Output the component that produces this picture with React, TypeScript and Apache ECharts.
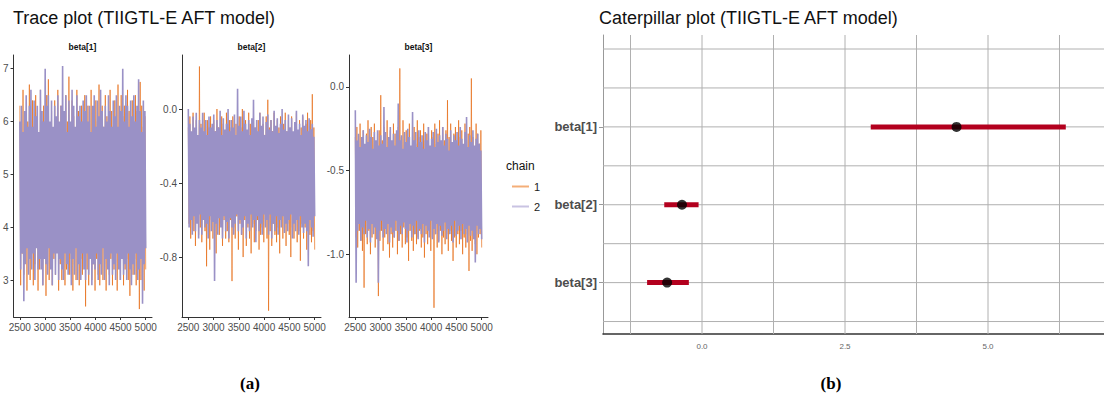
import React, { useEffect, useRef } from "react";
import * as echarts from "echarts";

// ---------- data (thinned draws) ----------
const panelNames = ["beta[1]", "beta[2]", "beta[3]"];
const chainNames = ["1", "2"];
const firstIter = 2501;
const lastIter = 5000;

const chain1Beta1 = [
  6.3, 2.9, 5.8, 3.5, 6.6, 3.1, 5.5, 3.8, 6.2, 2.8, 6.0, 3.4, 6.7, 3.0, 5.7, 3.6,
  6.4, 2.9, 5.9, 3.3, 6.5, 3.7, 6.1, 2.8, 5.6, 3.2, 6.6, 3.5, 6.0, 2.9, 6.3, 3.4,
  5.8, 2.7, 6.5, 3.3, 6.8, 3.0, 5.9, 3.6, 6.2, 2.9, 5.6, 3.4, 6.4, 3.1, 6.0, 3.7,
  6.6, 2.8, 5.7, 3.3, 6.3, 3.0, 6.1, 3.5, 5.8, 2.9, 6.5, 3.2, 6.0, 3.6, 6.85, 3.1,
  5.9, 3.4, 6.4, 2.8, 6.1, 3.3, 5.7, 3.0, 6.6, 3.5, 6.2, 2.9, 5.8, 3.4, 6.3, 3.1,
  6.0, 3.6, 6.5, 2.5, 5.9, 3.2, 6.3, 2.9, 5.7, 3.5, 6.6, 3.0, 6.1, 3.3, 5.8, 2.8,
  6.4, 3.4, 6.0, 3.1, 6.7, 2.9, 5.6, 3.5, 6.3, 3.0, 5.9, 3.3, 6.5, 2.8, 6.1, 3.6,
  5.8, 3.1, 6.6, 3.4, 6.2, 2.9, 5.9, 3.2, 6.4, 3.6, 6.0, 2.8, 6.7, 3.3, 5.7, 3.0,
  6.5, 3.5, 6.1, 2.9, 6.3, 3.2, 5.8, 3.4, 6.6, 3.0, 6.2, 2.7, 5.9, 3.3, 6.4, 3.1,
  6.0, 3.4, 6.5, 2.9, 6.2, 3.2, 5.8, 2.45, 6.75, 3.0, 6.3, 3.3, 5.9, 2.8, 6.1, 3.2,
];
const chain2Beta1 = [
  6.0, 3.2, 6.3, 3.5, 5.8, 2.6, 6.2, 3.3, 6.5, 3.6, 5.9, 3.1, 6.3, 3.4, 6.6, 3.2,
  5.9, 3.5, 6.4, 3.0, 6.1, 3.6, 6.3, 3.2, 5.8, 3.4, 6.6, 3.2, 6.2, 2.9, 6.0, 3.4,
  7.0, 3.3, 6.3, 3.1, 6.5, 3.6, 6.0, 3.2, 6.4, 2.9, 5.9, 3.5, 6.3, 3.1, 6.1, 3.5,
  6.5, 3.0, 6.0, 3.4, 6.3, 3.2, 7.05, 3.0, 6.2, 3.5, 6.5, 3.3, 5.8, 3.1, 6.4, 3.5,
  6.0, 2.9, 6.6, 3.4, 6.3, 3.1, 5.9, 3.6, 6.5, 3.0, 6.1, 3.3, 6.3, 3.0, 6.0, 3.5,
  6.4, 3.2, 6.2, 3.0, 6.5, 3.5, 6.0, 3.1, 6.3, 3.4, 5.8, 2.9, 6.3, 3.3, 6.5, 3.2,
  5.9, 3.5, 6.4, 3.0, 6.1, 3.3, 6.6, 3.1, 6.2, 3.6, 5.9, 3.0, 6.3, 3.4, 6.0, 3.2,
  6.5, 2.9, 6.2, 3.5, 5.9, 3.1, 6.4, 3.3, 6.1, 3.0, 6.5, 3.5, 5.9, 3.2, 6.3, 3.0,
  6.2, 3.4, 7.0, 3.1, 6.0, 3.3, 6.5, 3.0, 6.3, 3.5, 5.9, 3.2, 6.4, 2.9, 6.1, 3.3,
  6.5, 3.1, 6.0, 3.5, 6.3, 3.0, 6.8, 3.2, 6.2, 3.4, 5.8, 2.55, 6.4, 3.3, 6.2, 3.6,
];
const chain1Beta2 = [
  -0.10, -0.62, -0.04, -0.70, -0.14, -0.58, -0.02, -0.66, -0.12, -0.74, -0.06, -0.60, -0.16, -0.68, 0.23, -0.64,
  -0.08, -0.72, -0.12, -0.58, -0.02, -0.66, -0.14, -0.85, -0.06, -0.62, -0.10, -0.76, -0.04, -0.60, -0.16, -0.70,
  -0.06, -0.64, -0.12, -0.78, 0.0, -0.58, -0.10, -0.68, -0.14, -0.62, -0.04, -0.74, -0.08, -0.60, -0.12, -0.70,
  -0.02, -0.66, -0.16, -0.72, -0.06, -0.60, -0.10, -0.93, -0.04, -0.64, -0.12, -0.70, -0.08, -0.58, -0.14, -0.76,
  -0.04, -0.62, -0.10, -0.68, 0.0, -0.80, -0.12, -0.60, -0.06, -0.74, -0.14, -0.64, -0.02, -0.70, -0.08, -0.78,
  -0.12, -0.62, -0.04, -0.72, -0.10, -0.66, -0.16, -0.60, -0.06, -0.76, -0.02, -0.68, -0.12, -0.64, -0.08, -0.72,
  -0.14, -0.60, -0.04, -0.70, 0.05, -1.09, -0.10, -0.66, -0.06, -0.74, -0.12, -0.62, -0.02, -0.68, -0.16, -0.72,
  -0.06, -0.64, -0.10, -0.78, -0.04, -0.60, -0.14, -0.70, -0.08, -0.66, -0.02, -0.74, -0.12, -0.62, -0.06, -0.68,
  -0.10, -0.80, -0.04, -0.64, -0.14, -0.70, -0.08, -0.60, -0.02, -0.72, -0.12, -0.66, -0.06, -0.82, -0.10, -0.62,
  -0.04, -0.70, -0.12, -0.64, -0.08, -0.76, -0.02, -0.60, -0.14, -0.68, -0.06, -0.72, 0.08, -0.66, -0.10, -0.76,
];
const chain2Beta2 = [
  0.0, -0.64, -0.08, -0.60, -0.12, -0.68, -0.04, -0.58, -0.10, -0.66, -0.02, -0.62, -0.14, -0.70, -0.06, -0.57,
  -0.10, -0.68, -0.02, -0.60, -0.12, -0.64, -0.06, -0.62, -0.14, -0.70, -0.04, -0.58, -0.10, -0.66, -0.08, -0.61,
  -0.03, -0.93, -0.12, -0.62, -0.06, -0.68, -0.10, -0.59, -0.01, -0.64, -0.14, -0.70, -0.05, -0.58, -0.11, -0.66,
  -0.08, -0.61, 0.0, -0.70, -0.12, -0.59, -0.06, -0.64, -0.10, -0.68, -0.03, -0.62, -0.14, -0.57, 0.11, -0.66,
  -0.09, -0.60, -0.04, -0.68, -0.12, -0.64, -0.01, -0.58, -0.08, -0.70, -0.11, -0.62, -0.06, -0.66, -0.14, -0.57,
  -0.05, -0.64, 0.05, -0.60, -0.10, -0.72, -0.06, -0.58, -0.12, -0.66, -0.02, -0.62, -0.09, -0.68, -0.04, -0.57,
  -0.14, -0.64, -0.07, -0.60, -0.03, -0.68, -0.11, -0.57, -0.06, -0.70, -0.12, -0.62, -0.01, -0.66, -0.09, -0.58,
  -0.05, -0.68, -0.13, -0.60, -0.08, -0.64, 0.0, -0.58, -0.11, -0.67, -0.06, -0.62, -0.12, -0.66, -0.03, -0.60,
  -0.10, -0.57, -0.05, -0.70, -0.12, -0.62, -0.07, -0.66, -0.01, -0.60, -0.11, -0.68, -0.08, -0.58, -0.14, -0.64,
  -0.03, -0.67, -0.09, -0.62, -0.06, -0.66, -0.12, -0.85, -0.05, -0.60, -0.11, -0.64, -0.08, -0.69, -0.15, -0.58,
];
const chain1Beta3 = [
  -0.30, -0.90, -0.24, -0.96, -0.36, -0.86, -0.22, -0.92, -0.32, -0.98, -0.26, -1.20, -0.38, -0.88, -0.28, -0.94,
  -0.20, -0.86, -0.34, -1.00, -0.24, -0.90, -0.30, -0.84, -0.22, -0.96, -0.36, -0.88, -0.28, -1.25, -0.26, -0.92,
  -0.05, -0.86, -0.32, -0.98, -0.24, -0.90, -0.38, -0.84, -0.20, -0.94, -0.30, -1.02, -0.26, -0.88, -0.34, -0.96,
  -0.22, -0.90, -0.28, -0.86, -0.36, -1.00, -0.24, -0.92, 0.11, -0.88, -0.30, -0.96, -0.20, -0.84, -0.34, -0.94,
  -0.26, -0.90, -0.32, -1.04, -0.22, -0.86, -0.38, -0.92, -0.28, -0.98, -0.24, -0.88, -0.34, -0.94, -0.20, -0.90,
  -0.30, -0.86, -0.26, -0.96, -0.36, -0.90, -0.22, -1.02, -0.32, -0.88, -0.28, -0.94, -0.24, -0.84, -0.38, -0.98,
  -0.26, -0.90, -0.30, -1.32, -0.22, -0.88, -0.34, -0.96, -0.28, -0.92, -0.20, -0.86, -0.36, -1.00, -0.24, -0.90,
  -0.32, -0.94, -0.26, -0.88, -0.08, -0.98, -0.30, -0.86, -0.22, -0.92, -0.36, -1.04, -0.28, -0.90, -0.24, -0.96,
  -0.34, -0.88, -0.20, -0.94, -0.30, -0.86, -0.26, -1.00, -0.38, -0.90, -0.22, -0.96, -0.32, -0.88, -0.28, -1.10,
  -0.24, -0.92, 0.05, -0.98, -0.30, -0.86, -0.36, -0.94, -0.22, -1.00, -0.28, -0.90, -0.34, -0.88, -0.26, -0.96,
];
const chain2Beta3 = [
  -0.14, -1.17, -0.32, -0.86, -0.28, -0.82, -0.36, -0.92, -0.30, -0.84, -0.26, -0.88, -0.34, -0.80, -0.29, -0.90,
  -0.33, -0.85, -0.25, -0.93, -0.30, -0.82, -0.37, -0.88, -0.27, -0.84, -0.32, -0.91, -0.26, -1.17, -0.35, -0.86,
  -0.29, -0.80, -0.34, -0.90, -0.12, -0.85, -0.27, -0.88, -0.36, -0.82, -0.30, -0.93, -0.24, -0.84, -0.32, -0.87,
  -0.28, -0.90, -0.35, -0.80, -0.26, -0.86, -0.10, -0.92, -0.32, -0.83, -0.29, -0.88, -0.37, -0.81, -0.27, -0.85,
  -0.33, -0.93, -0.25, -0.86, -0.30, -0.82, -0.35, -0.90, -0.15, -0.83, -0.32, -0.88, -0.27, -0.80, -0.36, -0.91,
  -0.26, -0.85, -0.33, -0.88, -0.29, -0.82, -0.37, -0.93, -0.27, -0.83, -0.32, -0.86, -0.24, -0.90, -0.35, -0.80,
  -0.31, -0.91, -0.27, -0.85, -0.36, -0.88, -0.25, -0.82, -0.33, -0.93, -0.29, -0.83, -0.32, -0.89, -0.24, -0.86,
  -0.35, -0.81, -0.28, -0.91, -0.31, -0.85, -0.38, -0.88, -0.26, -0.83, -0.33, -0.93, -0.29, -0.80, -0.32, -0.89,
  -0.27, -0.86, -0.35, -0.83, -0.24, -0.91, -0.31, -0.82, -0.34, -0.88, -0.27, -0.85, -0.18, -0.93, -0.36, -0.83,
  -0.29, -0.89, -0.33, -0.86, -0.26, -0.91, -0.35, -1.05, -0.31, -0.83, -0.28, -0.88, -0.34, -0.85, -0.38, -0.91,
];

const traceXTicks = [2500, 3000, 3500, 4000, 4500, 5000];
const traceYTicks = [
  [3, 4, 5, 6, 7],
  [-0.8, -0.4, 0.0],
  [-1.0, -0.5, 0.0],
];
const traceYRange = [
  [2.3, 7.26],
  [-1.124, 0.292],
  [-1.375, 0.19],
];

const catParams = ["beta[1]", "beta[2]", "beta[3]"];
const catLow = [2.95, -0.66, -0.96];
const catMid = [4.45, -0.35, -0.61];
const catHigh = [6.36, -0.06, -0.23];
const catXTicks = [0, 2.5, 5];
const catXGrid = [-1.25, 0, 1.25, 2.5, 3.75, 5, 6.25];
const catYGrid = [0, 0.5, 1, 1.5, 2, 2.5, 3, 3.5];

// ---------- styles ----------
const FONT = "'Liberation Sans', Arial, sans-serif";
const chainColors = ["#E66A12", "#9A91C6"];
const chainOpacity = [0.75, 1];
const chainWidth = [0.9, 1.6];
const legendColors = ["#F4AE78", "#C9C3E2"];

const traceChains = [
  [chain1Beta1, chain2Beta1],
  [chain1Beta2, chain2Beta2],
  [chain1Beta3, chain2Beta3],
];

const gridsTrace = [
  { left: 13, top: 55, width: 139, height: 262 },
  { left: 182, top: 55, width: 139, height: 262 },
  { left: 349, top: 55, width: 139, height: 262 },
];
const gridCat = { left: 603, top: 35, width: 501, height: 299 };

function toIterPairs(vals: number[]) {
  const n = vals.length;
  return vals.map((v, i) => [
    firstIter + Math.round((i * (lastIter - firstIter)) / (n - 1)),
    v,
  ]);
}

export default function App() {
  const ref = useRef<HTMLDivElement>(null);

  useEffect(() => {
    if (!ref.current) return;
    const chart = echarts.init(ref.current, null, { renderer: "svg" });

    const xAxes: any[] = [];
    const yAxes: any[] = [];
    const series: any[] = [];

    gridsTrace.forEach((_, p) => {
      xAxes.push({
        type: "value",
        gridIndex: p,
        min: 2376,
        max: 5125,
        axisLine: { show: true, onZero: false, lineStyle: { color: "#333", width: 1 } },
        axisTick: {
          show: true,
          length: 3,
          customValues: traceXTicks,
          lineStyle: { color: "#333" },
        },
        axisLabel: {
          customValues: traceXTicks,
          fontSize: 10,
          color: "#4d4d4d",
          margin: 5,
          fontFamily: FONT,
          hideOverlap: false,
          formatter: (v: number) => String(v),
        },
        splitLine: { show: false },
      });
      yAxes.push({
        type: "value",
        gridIndex: p,
        min: traceYRange[p][0],
        max: traceYRange[p][1],
        axisLine: { show: true, onZero: false, lineStyle: { color: "#333", width: 1 } },
        axisTick: {
          show: true,
          length: 3,
          customValues: traceYTicks[p],
          lineStyle: { color: "#333" },
        },
        axisLabel: {
          customValues: traceYTicks[p],
          fontSize: 10,
          color: "#4d4d4d",
          margin: 5,
          fontFamily: FONT,
          formatter: (v: number) => (p === 0 ? String(v) : v.toFixed(1)),
        },
        splitLine: { show: false },
      });
      traceChains[p].forEach((vals, c) => {
        series.push({
          type: "line",
          name: chainNames[c],
          xAxisIndex: p,
          yAxisIndex: p,
          data: toIterPairs(vals),
          symbol: "none",
          lineStyle: {
            color: chainColors[c],
            width: chainWidth[c],
            opacity: chainOpacity[c],
          },
          itemStyle: { color: chainColors[c] },
          silent: true,
          z: 2 + c,
        });
      });
    });

    // caterpillar axes
    xAxes.push({
      type: "value",
      gridIndex: 3,
      min: -1.731,
      max: 7.028,
      axisLine: { show: true, onZero: false, lineStyle: { color: "#333", width: 1.6 } },
      axisTick: { show: false },
      axisLabel: {
        customValues: catXTicks,
        fontSize: 8,
        color: "#666",
        margin: 8,
        fontFamily: FONT,
        formatter: (v: number) => v.toFixed(1),
      },
      splitLine: { show: false },
    });
    yAxes.push({
      type: "value",
      gridIndex: 3,
      inverse: true,
      min: -0.18,
      max: 3.66,
      axisLine: { show: true, onZero: false, lineStyle: { color: "#999", width: 1 } },
      axisTick: {
        show: true,
        length: 4,
        customValues: [1, 2, 3],
        lineStyle: { color: "#999" },
      },
      axisLabel: {
        customValues: [1, 2, 3],
        formatter: (v: number) => catParams[Math.round(v) - 1] || "",
        fontSize: 13,
        fontWeight: "bold",
        color: "#4d4d4d",
        margin: 6,
        fontFamily: FONT,
      },
      splitLine: { show: false },
    });

    // grid lines (vertical)
    series.push({
      type: "custom",
      xAxisIndex: 3,
      yAxisIndex: 3,
      silent: true,
      z: 1,
      data: catXGrid.map((x) => [x, 1]),
      encode: { x: 0, y: 1 },
      renderItem: (params: any, api: any) => {
        const cs = params.coordSys;
        const pt = api.coord([api.value(0), api.value(1)]);
        return {
          type: "line",
          shape: { x1: pt[0], y1: cs.y, x2: pt[0], y2: cs.y + cs.height },
          style: { stroke: "#b0b0b0", lineWidth: 1 },
        };
      },
    });
    // grid lines (horizontal)
    series.push({
      type: "custom",
      xAxisIndex: 3,
      yAxisIndex: 3,
      silent: true,
      z: 1,
      data: catYGrid.map((y) => [0, y]),
      encode: { x: 0, y: 1 },
      renderItem: (params: any, api: any) => {
        const cs = params.coordSys;
        const pt = api.coord([api.value(0), api.value(1)]);
        return {
          type: "line",
          shape: { x1: cs.x, y1: pt[1], x2: cs.x + cs.width, y2: pt[1] },
          style: { stroke: "#b0b0b0", lineWidth: 1 },
        };
      },
    });
    // intervals
    series.push({
      type: "custom",
      xAxisIndex: 3,
      yAxisIndex: 3,
      silent: true,
      z: 3,
      data: catParams.map((_, i) => [catLow[i], catHigh[i], i + 1]),
      encode: { x: [0, 1], y: 2 },
      renderItem: (_params: any, api: any) => {
        const a = api.coord([api.value(0), api.value(2)]);
        const b = api.coord([api.value(1), api.value(2)]);
        return {
          type: "line",
          shape: { x1: a[0], y1: a[1], x2: b[0], y2: b[1] },
          style: { stroke: "#B3001E", lineWidth: 5 },
        };
      },
    });
    // medians
    series.push({
      type: "scatter",
      xAxisIndex: 3,
      yAxisIndex: 3,
      silent: true,
      z: 4,
      symbol: "circle",
      symbolSize: 10,
      itemStyle: { color: "#000" },
      data: catMid.map((m, i) => [m, i + 1]),
    });

    const graphics: any[] = [
      {
        type: "text",
        left: 13,
        top: 9,
        style: {
          text: "Trace plot (TIIGTL-E AFT model)",
          fontSize: 18,
          fill: "#111",
          fontFamily: FONT,
        },
      },
      {
        type: "text",
        left: 599,
        top: 9,
        style: {
          text: "Caterpillar plot (TIIGTL-E AFT model)",
          fontSize: 18,
          fill: "#111",
          fontFamily: FONT,
        },
      },
      {
        type: "text",
        x: 506,
        y: 166,
        style: {
          text: "chain",
          fontSize: 12,
          fill: "#111",
          fontFamily: FONT,
          textVerticalAlign: "middle",
        },
      },
      {
        type: "text",
        x: 250,
        y: 383,
        style: {
          text: "(a)",
          fontSize: 17,
          fontWeight: "bold",
          fill: "#000",
          fontFamily: "'Liberation Serif', 'DejaVu Serif', serif",
          textAlign: "center",
          textVerticalAlign: "middle",
        },
      },
      {
        type: "text",
        x: 831,
        y: 383,
        style: {
          text: "(b)",
          fontSize: 17,
          fontWeight: "bold",
          fill: "#000",
          fontFamily: "'Liberation Serif', 'DejaVu Serif', serif",
          textAlign: "center",
          textVerticalAlign: "middle",
        },
      },
    ];
    gridsTrace.forEach((g, p) => {
      graphics.push({
        type: "text",
        x: g.left + g.width / 2,
        y: 47,
        style: {
          text: panelNames[p],
          fontSize: 8.5,
          fontWeight: "bold",
          fill: "#111",
          fontFamily: FONT,
          textAlign: "center",
          textVerticalAlign: "middle",
        },
      });
    });

    chart.setOption({
      animation: false,
      textStyle: { fontFamily: FONT },
      grid: [...gridsTrace, gridCat],
      xAxis: xAxes,
      yAxis: yAxes,
      legend: {
        left: 507,
        top: 176,
        orient: "vertical",
        icon: "rect",
        itemWidth: 17,
        itemHeight: 2,
        itemGap: 9,
        selectedMode: false,
        textStyle: { fontSize: 11, color: "#222", fontFamily: FONT },
        data: chainNames.map((n, c) => ({
          name: n,
          itemStyle: { color: legendColors[c] },
        })),
      },
      graphic: graphics,
      series,
    });

    return () => chart.dispose();
  }, []);

  return (
    <div
      ref={ref}
      style={{ position: "absolute", left: 0, top: 0, width: 1104, height: 394 }}
    />
  );
}
